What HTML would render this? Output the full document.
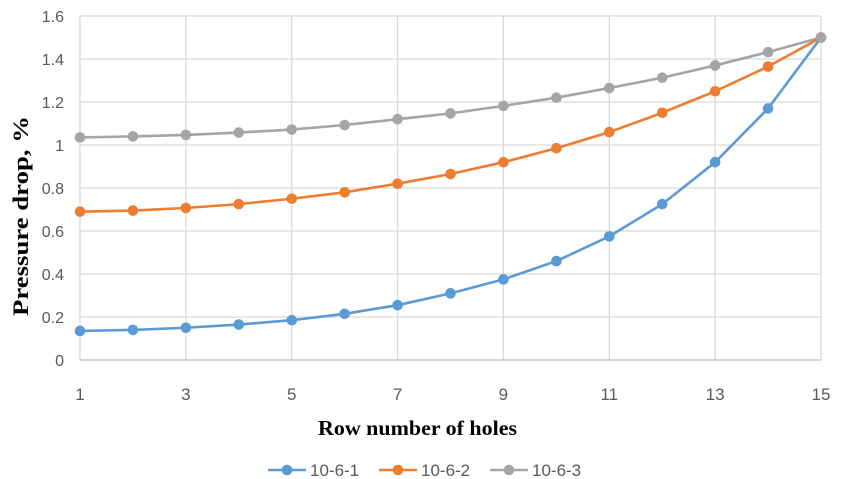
<!DOCTYPE html>
<html><head><meta charset="utf-8"><style>
html,body{margin:0;padding:0;background:#fff}
svg{display:block}
</style></head><body>
<svg width="844" height="479" viewBox="0 0 844 479" xmlns="http://www.w3.org/2000/svg">
<defs>
<marker id="mb" markerWidth="12" markerHeight="12" refX="6" refY="6" markerUnits="userSpaceOnUse"><circle cx="6" cy="6" r="5.3" fill="#5b9bd5"/></marker>
<marker id="mo" markerWidth="12" markerHeight="12" refX="6" refY="6" markerUnits="userSpaceOnUse"><circle cx="6" cy="6" r="5.3" fill="#ed7d31"/></marker>
<marker id="mg" markerWidth="12" markerHeight="12" refX="6" refY="6" markerUnits="userSpaceOnUse"><circle cx="6" cy="6" r="5.3" fill="#a5a5a5"/></marker>
</defs>
<rect width="844" height="479" fill="#fff"/>
<g stroke="#d9d9d9" stroke-width="1.3" fill="none">
<line x1="80" y1="16" x2="821" y2="16"/>
<line x1="80" y1="59" x2="821" y2="59"/>
<line x1="80" y1="102" x2="821" y2="102"/>
<line x1="80" y1="145" x2="821" y2="145"/>
<line x1="80" y1="188" x2="821" y2="188"/>
<line x1="80" y1="231" x2="821" y2="231"/>
<line x1="80" y1="274" x2="821" y2="274"/>
<line x1="80" y1="317" x2="821" y2="317"/>
<line x1="80" y1="16" x2="80" y2="360"/>
<line x1="185.9" y1="16" x2="185.9" y2="360"/>
<line x1="291.7" y1="16" x2="291.7" y2="360"/>
<line x1="397.6" y1="16" x2="397.6" y2="360"/>
<line x1="503.4" y1="16" x2="503.4" y2="360"/>
<line x1="609.3" y1="16" x2="609.3" y2="360"/>
<line x1="715.1" y1="16" x2="715.1" y2="360"/>
<line x1="821" y1="16" x2="821" y2="360"/>
</g>
<line x1="80" y1="360" x2="821" y2="360" stroke="#bfbfbf" stroke-width="1.3"/>
<g font-family="Liberation Sans, sans-serif" font-size="16" fill="#595959" text-anchor="end">
<text x="64" y="22">1.6</text><text x="64" y="65">1.4</text><text x="64" y="108">1.2</text>
<text x="64" y="151">1</text><text x="64" y="194">0.8</text><text x="64" y="237">0.6</text>
<text x="64" y="280">0.4</text><text x="64" y="323">0.2</text><text x="64" y="366">0</text>
</g>
<g font-family="Liberation Sans, sans-serif" font-size="17" fill="#595959" text-anchor="middle">
<text x="80" y="400">1</text><text x="185.9" y="400">3</text><text x="291.7" y="400">5</text>
<text x="397.6" y="400">7</text><text x="503.4" y="400">9</text><text x="609.3" y="400">11</text>
<text x="715.1" y="400">13</text><text x="821" y="400">15</text>
</g>
<text x="318" y="435" textLength="199" lengthAdjust="spacingAndGlyphs" font-family="Liberation Serif, serif" font-weight="bold" font-size="21" fill="#000">Row number of holes</text>
<text transform="translate(28,316) rotate(-90)" textLength="200" lengthAdjust="spacingAndGlyphs" font-family="Liberation Serif, serif" font-weight="bold" font-size="22" fill="#000">Pressure drop, %</text>
<g fill="none" stroke-width="2.6" stroke-linejoin="round">
<polyline stroke="#a5a5a5" marker-start="url(#mg)" marker-mid="url(#mg)" marker-end="url(#mg)" points="80,137.48 132.93,136.4 185.86,134.9 238.79,132.53 291.72,129.52 344.65,125.01 397.58,119.2 450.51,113.4 503.44,105.87 556.37,97.7 609.3,88.03 662.23,77.71 715.16,65.45 768.09,52.12 821,37.5"/>
<polyline stroke="#ed7d31" marker-start="url(#mo)" marker-mid="url(#mo)" marker-end="url(#mo)" points="80,211.65 132.93,210.58 185.86,207.99 238.79,204.13 291.72,198.75 344.65,192.3 397.58,183.7 450.51,174.03 503.44,162.2 556.37,148.23 609.3,132.1 662.23,112.75 715.16,91.25 768.09,66.53 821,37.5"/>
<polyline stroke="#5b9bd5" marker-start="url(#mb)" marker-mid="url(#mb)" marker-end="url(#mb)" points="80,330.98 132.93,329.9 185.86,327.75 238.79,324.53 291.72,320.23 344.65,313.78 397.58,305.18 450.51,293.35 503.44,279.38 556.37,261.1 609.3,236.38 662.23,204.13 715.16,162.2 768.09,108.45 821,37.5"/>
</g>
<circle cx="821" cy="37.5" r="5.3" fill="#a5a5a5"/>
<g font-family="Liberation Sans, sans-serif" font-size="17" fill="#595959">
<line x1="268" y1="470" x2="306" y2="470" stroke="#5b9bd5" stroke-width="2.6"/><circle cx="287" cy="470" r="5.3" fill="#5b9bd5"/>
<text x="310" y="476">10-6-1</text>
<line x1="379" y1="470" x2="417" y2="470" stroke="#ed7d31" stroke-width="2.6"/><circle cx="398" cy="470" r="5.3" fill="#ed7d31"/>
<text x="421" y="476">10-6-2</text>
<line x1="490" y1="470" x2="528" y2="470" stroke="#a5a5a5" stroke-width="2.6"/><circle cx="509" cy="470" r="5.3" fill="#a5a5a5"/>
<text x="532" y="476">10-6-3</text>
</g>
</svg>
</body></html>
